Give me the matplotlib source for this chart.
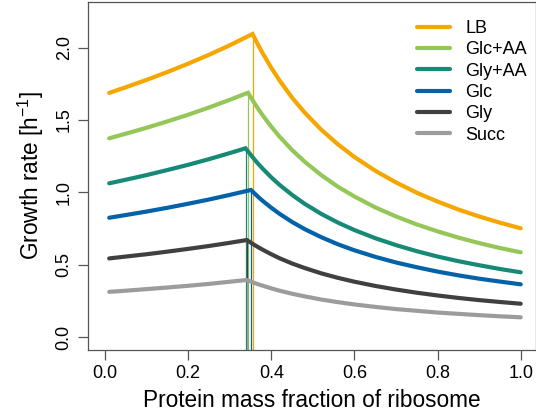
import matplotlib
matplotlib.use('Agg')
import matplotlib.pyplot as plt

plt.rcParams['font.family'] = ['Liberation Sans', 'DejaVu Sans']
plt.rcParams['mathtext.fontset'] = 'custom'
plt.rcParams['mathtext.rm'] = 'Liberation Sans'

# media, drawn top to bottom
media = ['LB', 'Glc+AA', 'Gly+AA', 'Glc', 'Gly', 'Succ']
colors = ['#F5A700', '#94C658', '#168A76', '#0462A8', '#404040', '#9C9C9C']

# ribosome fraction grid (left of optimum / right of optimum)
phi_left = [0.01, 0.05, 0.10, 0.15, 0.20, 0.25, 0.30]
phi_right = [0.36, 0.37, 0.38, 0.40, 0.42, 0.45, 0.48, 0.52, 0.56, 0.60,
             0.65, 0.70, 0.75, 0.80, 0.85, 0.90, 0.95, 1.00]

# optimum for each medium
peak_phi = [0.355, 0.344, 0.338, 0.351, 0.341, 0.341]
peak_rate = [2.094, 1.688, 1.304, 1.016, 0.670, 0.394]

# growth rates
rate_left = [
    [1.687, 1.726, 1.777, 1.831, 1.889, 1.950, 2.016],
    [1.373, 1.405, 1.446, 1.490, 1.536, 1.586, 1.639],
    [1.062, 1.087, 1.119, 1.154, 1.190, 1.229, 1.271],
    [0.824, 0.843, 0.867, 0.893, 0.921, 0.950, 0.982],
    [0.543, 0.556, 0.572, 0.590, 0.609, 0.629, 0.651],
    [0.312, 0.320, 0.331, 0.342, 0.354, 0.367, 0.382],
]
rate_right = [
    [2.065, 2.009, 1.957, 1.860, 1.772, 1.654, 1.552, 1.433, 1.332, 1.244,
     1.149, 1.068, 0.997, 0.936, 0.881, 0.833, 0.790, 0.751],
    [1.613, 1.570, 1.529, 1.453, 1.384, 1.292, 1.212, 1.119, 1.039, 0.971,
     0.896, 0.833, 0.778, 0.730, 0.687, 0.649, 0.615, 0.585],
    [1.225, 1.192, 1.161, 1.103, 1.051, 0.982, 0.921, 0.851, 0.791, 0.739,
     0.683, 0.635, 0.593, 0.556, 0.524, 0.496, 0.470, 0.447],
    [0.991, 0.964, 0.939, 0.893, 0.851, 0.795, 0.746, 0.690, 0.641, 0.599,
     0.554, 0.515, 0.482, 0.452, 0.426, 0.403, 0.383, 0.364],
    [0.635, 0.618, 0.602, 0.572, 0.544, 0.508, 0.477, 0.440, 0.409, 0.382,
     0.353, 0.328, 0.306, 0.287, 0.270, 0.255, 0.242, 0.230],
    [0.373, 0.363, 0.354, 0.336, 0.320, 0.299, 0.281, 0.259, 0.241, 0.225,
     0.208, 0.193, 0.181, 0.169, 0.160, 0.151, 0.143, 0.136],
]

fig = plt.figure(figsize=(5.36, 4.15), dpi=100)
ax = fig.add_axes([88 / 536, 1 - 350 / 415, 448 / 536, 348 / 415])

for i in range(len(media)):
    x = phi_left + [peak_phi[i]] + phi_right
    y = rate_left[i] + [peak_rate[i]] + rate_right[i]
    ax.vlines(peak_phi[i], -0.5, peak_rate[i], color=colors[i], linewidth=0.9)
    ax.plot(x, y, color=colors[i], linewidth=3, label=media[i],
            solid_capstyle='round', solid_joinstyle='miter')

ax.set_xlim(-0.041, 1.0368)
ax.set_ylim(-0.0898, 2.315)

for side in ['left', 'bottom', 'top', 'right']:
    ax.spines[side].set_color('#555555')
    ax.spines[side].set_linewidth(0.9)

ax.set_xticks([0.0, 0.2, 0.4, 0.6, 0.8, 1.0])
ax.set_xticklabels(['0.0', '0.2', '0.4', '0.6', '0.8', '1.0'])
ax.set_yticks([0.0, 0.5, 1.0, 1.5, 2.0])
ax.set_yticklabels(['0.0', '0.5', '1.0', '1.5', '2.0'], rotation=90, va='center')
ax.tick_params(direction='out', length=7, width=0.9, color='#555555',
               labelsize=13, pad=4)

ax.set_xlabel('Protein mass fraction of ribosome', fontsize=16.3, labelpad=5)
ax.set_ylabel(r'Growth rate [h$^{\mathregular{-1}}$]', fontsize=16.3, labelpad=7)

ax.legend(loc='upper right', bbox_to_anchor=(1.008, 0.985), frameon=False,
          fontsize=13, handlelength=1.8, handletextpad=0.85,
          labelspacing=0.24, borderaxespad=0.3)

fig.savefig('out.png', dpi=100)
